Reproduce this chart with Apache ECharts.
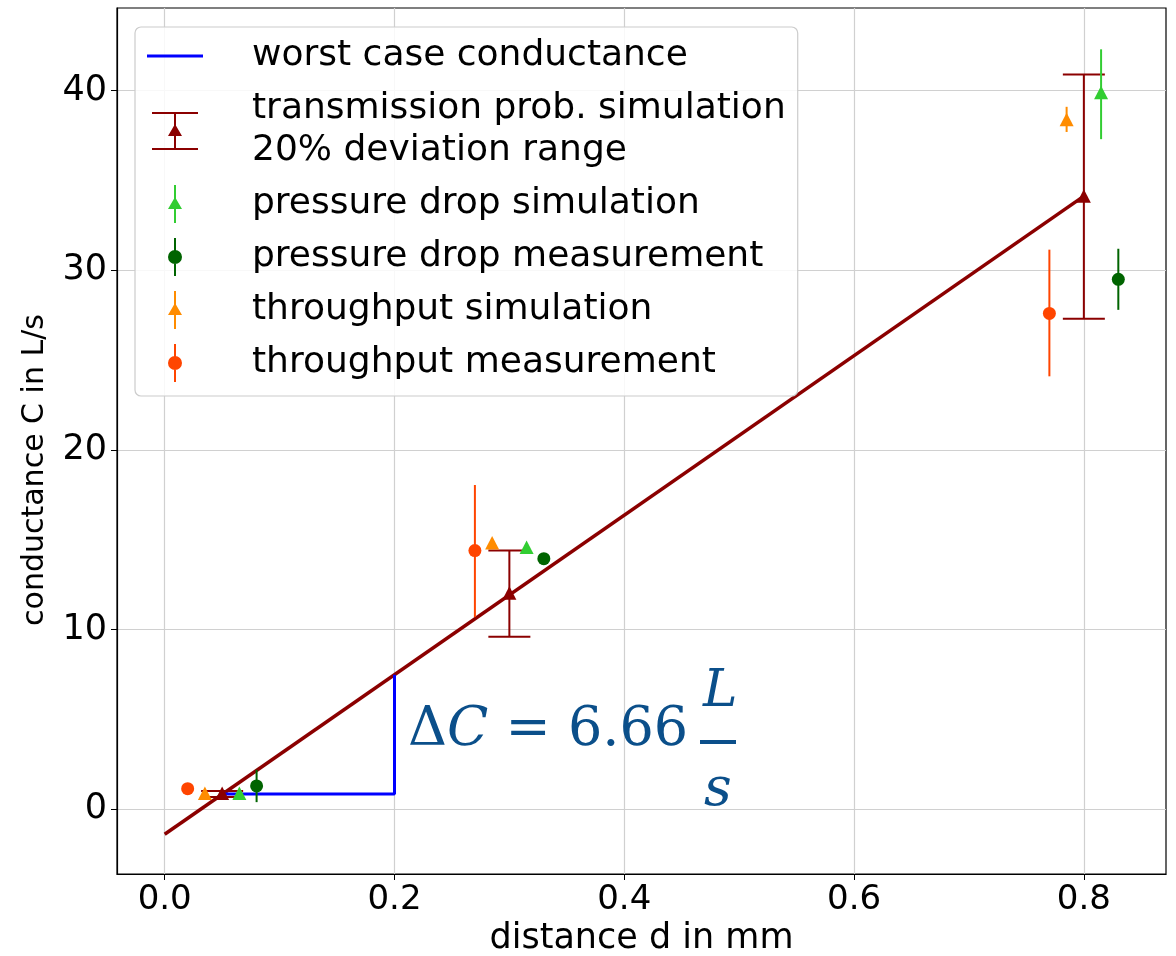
<!DOCTYPE html>
<html><head><meta charset="utf-8">
<script src="https://cdn.jsdelivr.net/npm/echarts@6/dist/echarts.min.js"></script>
<style>html,body{margin:0;padding:0;background:#fff}#c{width:1176px;height:956px}</style>
</head><body><div id="c"></div>
<script>
// ---- data ----
const xTicks = [0, 0.2, 0.4, 0.6, 0.8];
const yTicks = [0, 10, 20, 30, 40];

const fitX = [0, 0.8];
const fitY = [-1.39, 34.13];

const worstX = [0.05, 0.2, 0.2];
const worstY = [0.85, 0.85, 7.49];

const transX = [0.05, 0.3, 0.8];
const transY = [0.85, 12.0, 34.1];
const transLo = [0.68, 9.6, 27.3];
const transHi = [1.02, 14.4, 40.9];

const pdSimX = [0.065, 0.315, 0.815];
const pdSimY = [0.85, 14.55, 39.85];
const pdSimLo = [0.8, 14.45, 37.3];
const pdSimHi = [0.9, 14.65, 42.3];

const pdMeasX = [0.08, 0.33, 0.83];
const pdMeasY = [1.3, 13.95, 29.5];
const pdMeasLo = [0.4, 13.75, 27.8];
const pdMeasHi = [2.2, 14.15, 31.2];

const tpSimX = [0.035, 0.285, 0.785];
const tpSimY = [0.85, 14.8, 38.35];
const tpSimLo = [0.8, 14.7, 37.7];
const tpSimHi = [0.9, 14.9, 39.1];

const tpMeasX = [0.02, 0.27, 0.77];
const tpMeasY = [1.15, 14.4, 27.6];
const tpMeasLo = [0.9, 10.7, 24.1];
const tpMeasHi = [1.4, 18.05, 31.15];

const names = [
  'worst case conductance',
  'transmission prob. simulation\n20% deviation range',
  'pressure drop simulation',
  'pressure drop measurement',
  'throughput simulation',
  'throughput measurement'
];
const xName = 'distance d in mm';
const yName = 'conductance C in L/s';

// ---- helpers ----
function pts(xs, ys) { return xs.map((x, i) => [x, ys[i]]); }
function errData(xs, ys, lo, hi) { return xs.map((x, i) => [x, ys[i], lo[i], hi[i]]); }

function errRender(shape, capHalf) {
  return function (params, api) {
    const x = api.value(0), y = api.value(1), lo = api.value(2), hi = api.value(3);
    const pT = api.coord([x, hi]), pB = api.coord([x, lo]), p = api.coord([x, y]);
    const color = api.visual('color');
    const ch = [{ type: 'line', shape: { x1: pT[0], y1: pT[1], x2: pB[0], y2: pB[1] }, style: { stroke: color, lineWidth: 2 } }];
    if (capHalf) {
      ch.push({ type: 'line', shape: { x1: pT[0] - capHalf, y1: pT[1], x2: pT[0] + capHalf, y2: pT[1] }, style: { stroke: color, lineWidth: 2 } });
      ch.push({ type: 'line', shape: { x1: pB[0] - capHalf, y1: pB[1], x2: pB[0] + capHalf, y2: pB[1] }, style: { stroke: color, lineWidth: 2 } });
    }
    if (shape === 'triangle') {
      ch.push({ type: 'polygon', shape: { points: [[p[0] - 7, p[1] + 6], [p[0] + 7, p[1] + 6], [p[0], p[1] - 7.5]] }, style: { fill: color } });
    } else {
      ch.push({ type: 'circle', shape: { cx: p[0], cy: p[1], r: 6.5 }, style: { fill: color } });
    }
    return { type: 'group', children: ch };
  };
}

const box = 'M0,0M60,40';
const icLine = 'path://' + box + 'M2,18.5H58V21.5H2Z';
const icTrans = 'path://' + box + 'M7,2H53V4H7ZM7,38H53V40H7ZM29,2H31V40H29ZM23,26L30,14L37,26Z';
const icTri = 'path://' + box + 'M29,1H31V39H29ZM23,25L30,13L37,25Z';
const icCirc = 'path://' + box + 'M29,1H31V39H29ZM23,20A7,7 0 1,1 37,20A7,7 0 1,1 23,20Z';

const chart = echarts.init(document.getElementById('c'), null, { renderer: 'canvas' });
const font = 'DejaVu Sans';
const mathColor = '#0b4f8a';

const option = {
  animation: false,
  backgroundColor: '#fff',
  grid: { left: 117, right: 10, top: 8, bottom: 82, outerBoundsMode: 'none', containLabel: false,
    show: true, borderColor: '#000', borderWidth: 1.2, backgroundColor: 'transparent' },
  xAxis: {
    type: 'value', min: -0.0415, max: 0.8715,
    name: xName, nameLocation: 'middle', nameGap: 47, nameMoveOverlap: false,
    nameTextStyle: { fontFamily: font, fontSize: 35, color: '#000' },
    axisLine: { show: true, onZero: false, lineStyle: { color: '#000', width: 1.2 } },
    axisTick: { show: true, length: 6, customValues: xTicks, lineStyle: { color: '#000' } },
    axisLabel: { customValues: xTicks, formatter: v => v.toFixed(1), fontFamily: font, fontSize: 34, color: '#000', margin: 9 },
    splitLine: { show: true, lineStyle: { color: '#d0d0d0', width: 1.2 } }
  },
  yAxis: {
    type: 'value', min: -3.6, max: 44.6,
    axisLine: { show: true, onZero: false, lineStyle: { color: '#000', width: 1.2 } },
    axisTick: { show: true, length: 6, customValues: yTicks, lineStyle: { color: '#000' } },
    axisLabel: { customValues: yTicks, fontFamily: font, fontSize: 35, color: '#000', margin: 10 },
    splitLine: { show: true, lineStyle: { color: '#d0d0d0', width: 1.2 } }
  },
  legend: {
    orient: 'vertical', left: 135, top: 27,
    padding: [8, 12, 12, 10],
    itemWidth: 60, itemHeight: 40, itemGap: 11,
    backgroundColor: 'rgba(255,255,255,0.85)', borderColor: '#cccccc', borderWidth: 1.2, borderRadius: 6,
    textStyle: { fontFamily: font, fontSize: 36, color: '#000', lineHeight: 42, padding: [0, 0, 0, 42] },
    data: [
      { name: names[0], icon: icLine },
      { name: names[1], icon: icTrans },
      { name: names[2], icon: icTri },
      { name: names[3], icon: icCirc },
      { name: names[4], icon: icTri },
      { name: names[5], icon: icCirc }
    ]
  },
  graphic: [
    { type: 'text', x: 35, y: 470, rotation: Math.PI / 2, z: 100,
      style: { text: yName, fill: '#000', font: '30px "DejaVu Sans"', align: 'center', verticalAlign: 'middle' } },
    { type: 'text', left: 408, top: 704, z: 100,
      style: {
        text: '{a|Δ}{b|C}{a| = 6.66}',
        rich: {
          a: { fill: mathColor, fontFamily: 'DejaVu Serif', fontSize: 54 },
          b: { fill: mathColor, fontFamily: 'DejaVu Serif', fontStyle: 'italic', fontSize: 54 }
        }
      } },
    { type: 'text', left: 703, top: 666, z: 100,
      style: { text: 'L', fill: mathColor, font: 'italic 52px "DejaVu Serif"' } },
    { type: 'rect', shape: { x: 700, y: 740, width: 36, height: 4 }, style: { fill: mathColor }, z: 100 },
    { type: 'text', left: 704, top: 764, z: 100,
      style: { text: 's', fill: mathColor, font: 'italic 54px "DejaVu Serif"' } }
  ],
  series: [
    { name: 'fit', type: 'line', data: pts(fitX, fitY), showSymbol: false, lineStyle: { color: '#8b0000', width: 3.5 }, itemStyle: { color: '#8b0000' }, z: 2 },
    { name: names[0], type: 'line', data: pts(worstX, worstY), showSymbol: false, lineStyle: { color: '#0000ff', width: 3 }, itemStyle: { color: '#0000ff' }, z: 3 },
    { name: names[1], type: 'custom', renderItem: errRender('triangle', 21), data: errData(transX, transY, transLo, transHi), encode: { x: 0, y: 1 }, itemStyle: { color: '#8b0000' }, z: 4, clip: false },
    { name: names[2], type: 'custom', renderItem: errRender('triangle', 0), data: errData(pdSimX, pdSimY, pdSimLo, pdSimHi), encode: { x: 0, y: 1 }, itemStyle: { color: '#32cd32' }, z: 4, clip: false },
    { name: names[3], type: 'custom', renderItem: errRender('circle', 0), data: errData(pdMeasX, pdMeasY, pdMeasLo, pdMeasHi), encode: { x: 0, y: 1 }, itemStyle: { color: '#006400' }, z: 4, clip: false },
    { name: names[4], type: 'custom', renderItem: errRender('triangle', 0), data: errData(tpSimX, tpSimY, tpSimLo, tpSimHi), encode: { x: 0, y: 1 }, itemStyle: { color: '#ff8c00' }, z: 4, clip: false },
    { name: names[5], type: 'custom', renderItem: errRender('circle', 0), data: errData(tpMeasX, tpMeasY, tpMeasLo, tpMeasHi), encode: { x: 0, y: 1 }, itemStyle: { color: '#ff4500' }, z: 4, clip: false }
  ]
};
chart.setOption(option);
</script>
</body></html>
